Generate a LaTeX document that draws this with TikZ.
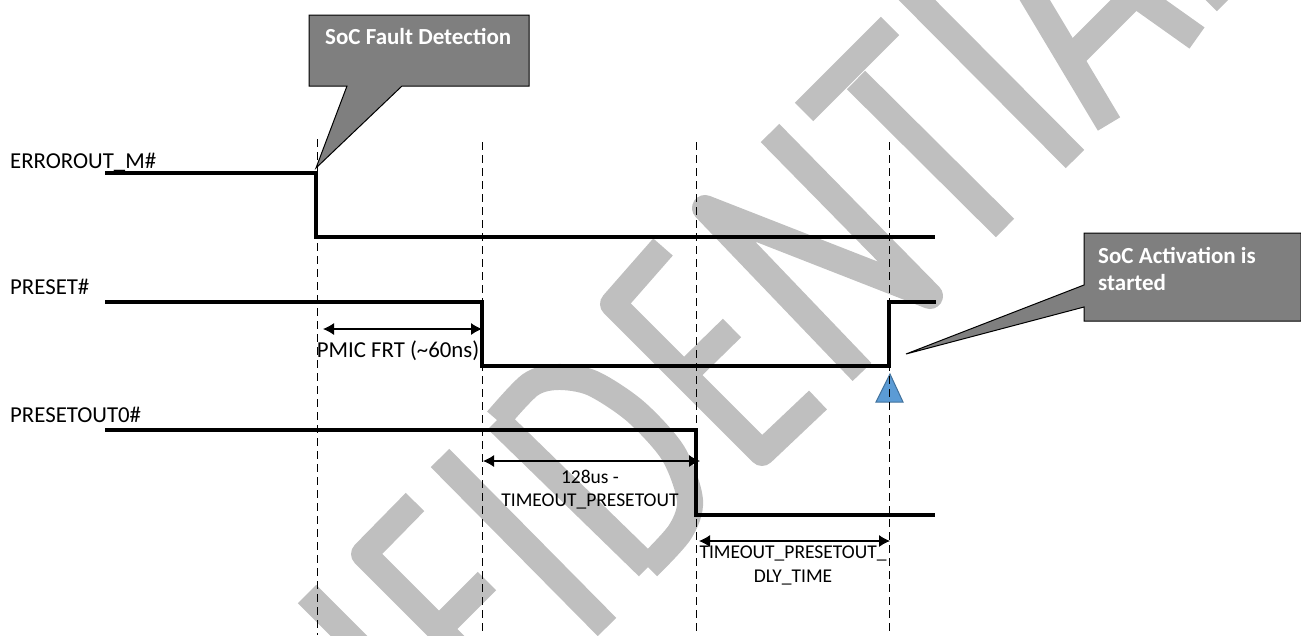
\documentclass[tikz,border=0pt]{standalone}
\usepackage{fontspec}
\setmainfont{Carlito}
\usepackage{xcolor}
\usetikzlibrary{arrows.meta, calc, positioning}
\definecolor{wmkgray}{HTML}{BFBFBF}
\definecolor{calloutgray}{HTML}{7F7F7F}
\definecolor{markblue}{HTML}{5B9BD5}
\definecolor{markedge}{HTML}{41719C}
\tikzset{
    wmk/.style={draw=wmkgray, line width=26pt, line join=round, line cap=butt},
    signal/.style={draw=black, line width=3.8pt, line join=miter},
    guide/.style={draw=black, line width=1.4pt, dash pattern=on 8pt off 5pt},
    span/.style={{Latex[length=11pt,width=12pt]}-{Latex[length=11pt,width=12pt]}, black, line width=1.1pt},
    callout/.style={draw=black, fill=calloutgray, line width=1pt, line join=miter},
    calltext/.style={text=white, font=\fontsize{23}{28}\selectfont\bfseries, anchor=west, inner sep=0pt},
    lbl/.style={text=black, font=\fontsize{22.8}{25}\selectfont, inner sep=0pt},
    lblsmall/.style={text=black, font=\fontsize{19.5}{25}\selectfont, inner sep=0pt},
}
\begin{document}
\begin{tikzpicture}[x=1pt, y=-1pt, >=latex]
    \useasboundingbox (0,0) rectangle (1301,635);

    % Watermark letters behind everything
    \draw[wmk] (307,594) -- (367,654);
    \draw[wmk] (415,502) -- (364,554) -- (460,650);
    \draw[wmk] (487,581) -- (439,629);
    \draw[wmk] (440,458) -- (607,627);
    \draw[wmk] (648,567) -- (497,420);
    \draw[wmk] plot[smooth] coordinates {(497,420) (530,385) (557,377) (592,383) (635,411) (673,453) (690,500) (680,532) (648,567)};
    \draw[wmk] (663,247) -- (613,304) -- (762,453) -- (818,400);
    \draw[wmk] (732,328) -- (684,375);
    \draw[wmk] (770,133) -- (930,296) -- (705,208) -- (862,372);
    \draw[wmk] (890,26) -- (804,112);
    \draw[wmk] (856,80) -- (1005,228);
    \draw[wmk] (905,-12) -- (1075,159);
    \draw[wmk] (1030,-8) -- (1109,124);
    \draw[wmk] (1077,52) -- (1135,-6) -- (1197,38);
    \draw[wmk] (1212,-12) -- (1226,2);

    % Callouts
    \draw[callout] (309,15) -- (529,15) -- (529,86) -- (402,86) -- (316,168) -- (347,86) -- (309,86) -- cycle;
    \draw[callout] (1084,233) -- (1301,233) -- (1301,321) -- (1084,321) -- (1084,307) -- (906,354) -- (1084,285) -- cycle;
    \node[calltext] (faulttext) at (325,36) {SoC Fault Detection};
    \node[calltext] (activetext) at (1098,255) {SoC Activation is};
    \node[calltext] (startedtext) at (1098,283) {started};

    % Blue marker
    \draw[fill=markblue, draw=markedge, line width=1pt] (890,374) -- (903,402) -- (876,402) -- cycle;

    % Dashed guides
    \draw[guide] (317.5,139) -- (317.5,635);
    \draw[guide] (482.5,142) -- (482.5,635);
    \draw[guide] (696.5,142) -- (696.5,635);
    \draw[guide] (889.5,142) -- (889.5,635);

    % Signals
    \draw[signal] (105,173) -- (316,173) -- (316,237) -- (935,237);
    \draw[signal] (105,302) -- (482,302) -- (482,366) -- (889,366) -- (889,302) -- (936,302);
    \draw[signal] (105,430) -- (696,430) -- (696,515) -- (935,515);

    % Signal names
    \node[lbl, anchor=west] (errname) at (10,162) {ERROROUT\_M\#};
    \node[lbl, anchor=west] (presetname) at (10,287) {PRESET\#};
    \node[lbl, anchor=west] (outname) at (10,415) {PRESETOUT0\#};

    % Time spans
    \coordinate (frtL) at (323,329);
    \coordinate (frtR) at (482,329);
    \coordinate (toL) at (483,461);
    \coordinate (toR) at (700,461);
    \coordinate (dlyL) at (699,541);
    \coordinate (dlyR) at (890,541);
    \draw[span] (frtL) -- (frtR);
    \draw[span] (toL) -- (toR);
    \draw[span] (dlyL) -- (dlyR);

    \node[lbl] (frttext) at (398,351) {PMIC FRT (\textasciitilde60ns)};
    \node[lblsmall] (totext) at (590,477) {128us -};
    \node[lblsmall] (tonametext) at (590,501) {TIMEOUT\_PRESETOUT};
    \node[lblsmall] (dlytext) at (793,553) {TIMEOUT\_PRESETOUT\_};
    \node[lblsmall] (dlynametext) at (793,578) {DLY\_TIME};
\end{tikzpicture}
\end{document}
